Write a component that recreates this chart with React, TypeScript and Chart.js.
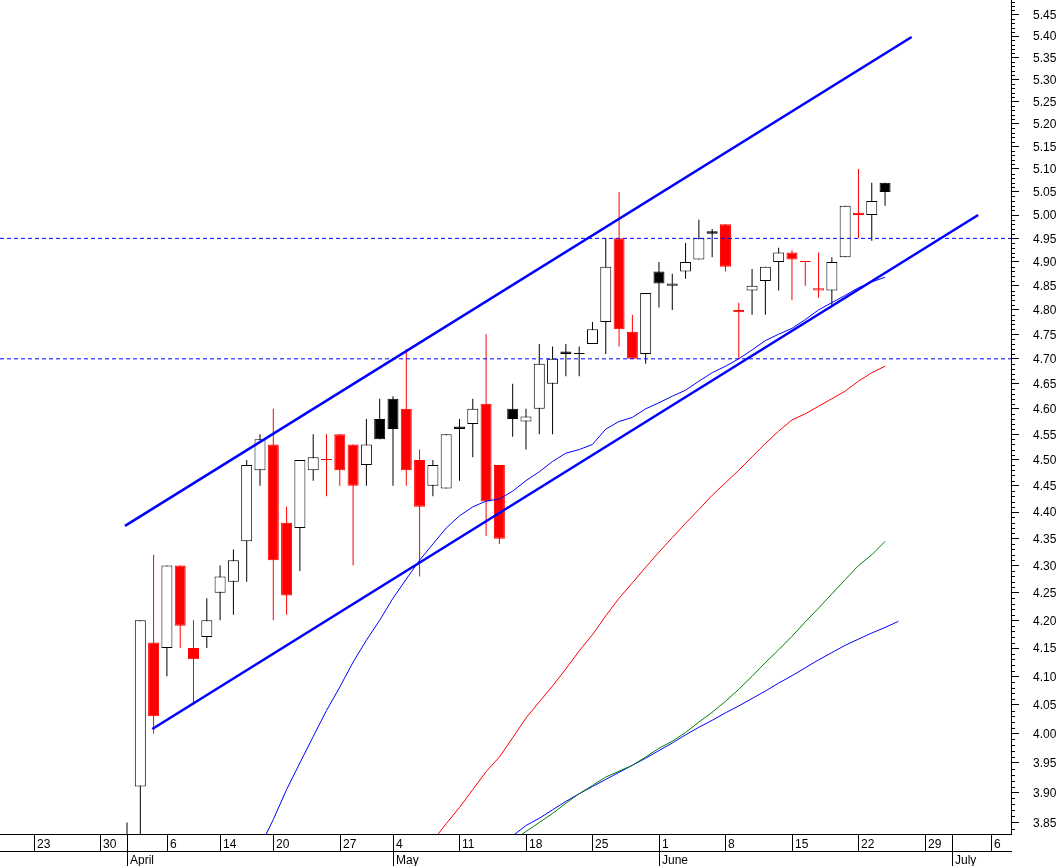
import React, { useEffect, useRef } from 'react';
import { Chart, registerables } from 'chart.js';

Chart.register(...registerables);

// ---- Candles (trading-day index 0..57) ----
const OPEN = [3.72, 3.91, 4.16, 4.15, 4.30, 4.15, 4.17, 4.25, 4.27, 4.345,
  4.48, 4.53, 4.38, 4.37, 4.48, 4.50, 4.55, 4.53, 4.49, 4.58,
  4.62, 4.60, 4.50, 4.45, 4.445, 4.565, 4.57, 4.61, 4.49, 4.60,
  4.575, 4.60, 4.65, 4.715, 4.71, 4.73, 4.775, 4.95, 4.755, 4.71,
  4.88, 4.85, 4.88, 4.905, 4.965, 4.98, 4.80, 4.84, 4.86, 4.90,
  4.92, 4.90, 4.84, 4.84, 4.91, 5.005, 5.00, 5.07];
const HIGH = [3.85, 4.20, 4.32, 4.30, 4.30, 4.20, 4.24, 4.30, 4.33, 4.50,
  4.55, 4.60, 4.41, 4.50, 4.55, 4.55, 4.55, 4.53, 4.58, 4.62,
  4.625, 4.72, 4.52, 4.50, 4.55, 4.58, 4.62, 4.75, 4.49, 4.65,
  4.60, 4.73, 4.725, 4.73, 4.725, 4.775, 4.95, 5.05, 4.79, 4.835,
  4.90, 4.875, 4.94, 4.99, 4.97, 4.98, 4.815, 4.885, 4.89, 4.93,
  4.925, 4.90, 4.92, 4.91, 5.02, 5.10, 5.07, 5.07];
const LOW = [3.70, 3.80, 4.00, 4.10, 4.15, 4.05, 4.15, 4.20, 4.21, 4.27,
  4.45, 4.20, 4.21, 4.29, 4.46, 4.43, 4.45, 4.30, 4.45, 4.54,
  4.45, 4.45, 4.28, 4.43, 4.445, 4.46, 4.505, 4.355, 4.34, 4.545,
  4.52, 4.55, 4.55, 4.665, 4.665, 4.73, 4.71, 4.725, 4.70, 4.69,
  4.805, 4.80, 4.865, 4.905, 4.91, 4.88, 4.70, 4.79, 4.79, 4.84,
  4.82, 4.85, 4.825, 4.81, 4.91, 4.95, 4.945, 5.02];
const CLOSE = [3.78, 4.20, 4.03, 4.30, 4.19, 4.13, 4.20, 4.28, 4.31, 4.49,
  4.54, 4.31, 4.245, 4.50, 4.505, 4.50, 4.48, 4.45, 4.53, 4.54,
  4.56, 4.48, 4.41, 4.49, 4.55, 4.56, 4.60, 4.42, 4.35, 4.58,
  4.585, 4.69, 4.70, 4.71, 4.71, 4.76, 4.89, 4.76, 4.70, 4.835,
  4.855, 4.855, 4.90, 4.95, 4.96, 4.89, 4.795, 4.85, 4.89, 4.92,
  4.905, 4.90, 4.845, 4.90, 5.02, 5.00, 5.03, 5.05];

// ---- Moving averages (values per trading-day index, starting at *_START) ----
const MA_SHORT_START = 10;
const MA_SHORT = [3.81, 3.855, 3.905, 3.95, 3.995, 4.04, 4.081, 4.125, 4.164, 4.20,
  4.24, 4.275, 4.31, 4.34, 4.37, 4.393, 4.41, 4.421, 4.425, 4.44,
  4.46, 4.477, 4.497, 4.513, 4.52, 4.53, 4.56, 4.575, 4.583, 4.60,
  4.612, 4.625, 4.637, 4.655, 4.672, 4.685, 4.70, 4.718, 4.737, 4.75,
  4.762, 4.78, 4.80, 4.815, 4.83, 4.846, 4.858, 4.868];
const MA_RED_START = 23;
const MA_RED = [3.82, 3.848, 3.875, 3.905, 3.935, 3.96, 3.993, 4.027, 4.055, 4.083,
  4.113, 4.145, 4.174, 4.208, 4.24, 4.268, 4.297, 4.325, 4.352, 4.379,
  4.405, 4.432, 4.456, 4.48, 4.506, 4.532, 4.556, 4.578, 4.59, 4.605,
  4.62, 4.635, 4.655, 4.672, 4.685];
const MA_GREEN_START = 29;
const MA_GREEN = [3.82, 3.835, 3.85, 3.865, 3.882, 3.898, 3.912, 3.926, 3.936, 3.946,
  3.96, 3.975, 3.987, 4.002, 4.02, 4.037, 4.056, 4.077, 4.10, 4.124,
  4.147, 4.171, 4.197, 4.222, 4.248, 4.274, 4.30, 4.32, 4.345];
const MA_LONG_START = 29;
const MA_LONG = [3.828, 3.845, 3.857, 3.871, 3.885, 3.898, 3.910, 3.922, 3.934, 3.946,
  3.958, 3.971, 3.984, 3.998, 4.011, 4.023, 4.036, 4.048, 4.061, 4.074,
  4.088, 4.101, 4.115, 4.129, 4.142, 4.155, 4.166, 4.177, 4.187, 4.198];

// ---- Trend channel (index, price) and horizontal levels ----
const UPPER_CHANNEL = [{ x: -0.15, y: 4.374 }, { x: 59, y: 5.398 }];
const LOWER_CHANNEL = [{ x: 1.9, y: 4.008 }, { x: 64, y: 5.0 }];
const LEVELS = [4.95, 4.70];

// ---- Axes ----
const X_MIN = -9.55;
const X_MAX = 66.47;
const Y_MIN = 3.831;
const Y_MAX = 5.4846;
const Y_TICKS = [3.85, 3.9, 3.95, 4.0, 4.05, 4.1, 4.15, 4.2, 4.25, 4.3, 4.35, 4.4, 4.45,
  4.5, 4.55, 4.6, 4.65, 4.7, 4.75, 4.8, 4.85, 4.9, 4.95, 5.0, 5.05, 5.1, 5.15, 5.2,
  5.25, 5.3, 5.35, 5.4, 5.45];
const DAY_TICK_POS = [-7, -2, 3, 7, 11, 16, 20, 25, 30, 35, 40, 45, 50, 55, 60, 65];
const DAY_TICK_LABELS = ['23', '30', '6', '14', '20', '27', '4', '11', '18', '25', '1', '8', '15', '22', '29', '6'];
const MONTH_POS = [0, 20, 40, 62];
const MONTH_LABELS = ['April', 'May', 'June', 'July'];

const FONT = '"Liberation Sans", Arial, sans-serif';
const RED = '#ff0000';
const BLUE = '#0000ff';
const GREEN = '#008000';
const BLACK = '#000000';

const axisPlugin = {
  id: 'tradeAxis',
  afterDraw(chart: any) {
    const { ctx, chartArea, scales } = chart;
    const xs = scales.x;
    const ys = scales.y;
    const bottom = Math.round(chartArea.bottom);
    const right = Math.round(chartArea.right);
    ctx.save();
    ctx.strokeStyle = BLACK;
    ctx.lineWidth = 1;
    ctx.beginPath();
    ctx.moveTo(0, bottom + 0.5);
    ctx.lineTo(right + 1, bottom + 0.5);
    ctx.moveTo(0, bottom + 17.5);
    ctx.lineTo(right + 1, bottom + 17.5);
    DAY_TICK_POS.forEach((p) => {
      const x = Math.round(xs.getPixelForValue(p)) + 0.5;
      ctx.moveTo(x, bottom);
      ctx.lineTo(x, bottom + 17);
    });
    MONTH_POS.forEach((p) => {
      const x = Math.round(xs.getPixelForValue(p)) + 0.5;
      ctx.moveTo(x, bottom);
      ctx.lineTo(x, chart.height);
    });
    // minor ticks on price axis every 0.01
    const ax = Math.round(ys.left) + 0.5;
    for (let c = 384; c <= 548; c++) {
      if (c % 5 === 0) continue;
      const y = Math.round(ys.getPixelForValue(c / 100)) + 0.5;
      if (y < chartArea.top || y > chartArea.bottom) continue;
      ctx.moveTo(ax, y);
      ctx.lineTo(ax + 3.5, y);
    }
    ctx.stroke();

    ctx.fillStyle = BLACK;
    ctx.font = '12px ' + FONT;
    ctx.textAlign = 'left';
    ctx.textBaseline = 'alphabetic';
    DAY_TICK_POS.forEach((p, i) => {
      const x = Math.round(xs.getPixelForValue(p));
      ctx.fillText(DAY_TICK_LABELS[i], x + 3, bottom + 14);
    });
    MONTH_POS.forEach((p, i) => {
      const x = Math.round(xs.getPixelForValue(p));
      ctx.fillText(MONTH_LABELS[i], x + 3, bottom + 30);
    });
    ctx.restore();
  },
};

export default function App() {
  const canvasRef = useRef<HTMLCanvasElement | null>(null);

  useEffect(() => {
    const canvas = canvasRef.current;
    if (!canvas) return;

    const isRed = CLOSE.map((c, i) => (i > 0 && c < CLOSE[i - 1]));
    const isHollow = CLOSE.map((c, i) => c >= OPEN[i]);
    const candleColor = isRed.map((r) => (r ? RED : BLACK));
    const bodyFill = candleColor.map((col, i) => (isHollow[i] ? '#ffffff' : col));

    const bodies = CLOSE.map((c, i) => ({ x: i, y: [OPEN[i], c] }));
    const wicks = HIGH.map((h, i) => ({ x: i, y: [LOW[i], h] }));
    const toPts = (arr: number[], start: number) => arr.map((v, i) => ({ x: start + i, y: v }));

    const lineBase = {
      type: 'line' as const,
      pointRadius: 0,
      pointHoverRadius: 0,
      fill: false,
      tension: 0,
      order: 0,
    };

    const chart = new Chart(canvas, {
      type: 'bar',
      data: {
        datasets: [
          {
            type: 'bar',
            data: wicks as any,
            backgroundColor: candleColor,
            borderWidth: 0,
            barThickness: 1,
            grouped: false,
            inflateAmount: 0,
            minBarLength: 1,
            order: 2,
          } as any,
          {
            type: 'bar',
            data: bodies as any,
            backgroundColor: bodyFill,
            borderColor: candleColor,
            borderWidth: 1,
            borderSkipped: false,
            barThickness: 11,
            grouped: false,
            inflateAmount: 0,
            minBarLength: 1,
            order: 1,
          } as any,
          { ...lineBase, data: toPts(MA_SHORT, MA_SHORT_START), borderColor: BLUE, borderWidth: 1 } as any,
          { ...lineBase, data: toPts(MA_RED, MA_RED_START), borderColor: RED, borderWidth: 1 } as any,
          { ...lineBase, data: toPts(MA_GREEN, MA_GREEN_START), borderColor: GREEN, borderWidth: 1 } as any,
          { ...lineBase, data: toPts(MA_LONG, MA_LONG_START), borderColor: BLUE, borderWidth: 1 } as any,
          { ...lineBase, data: UPPER_CHANNEL, borderColor: BLUE, borderWidth: 2.6 } as any,
          { ...lineBase, data: LOWER_CHANNEL, borderColor: BLUE, borderWidth: 2.6 } as any,
          ...LEVELS.map((lv) => ({
            ...lineBase,
            data: [{ x: X_MIN, y: lv }, { x: X_MAX, y: lv }],
            borderColor: BLUE,
            borderWidth: 1,
            borderDash: [4, 3],
          } as any)),
        ],
      },
      options: {
        responsive: false,
        devicePixelRatio: 1,
        animation: false,
        events: [],
        layout: { padding: { left: 0, right: 0, top: 0, bottom: 32 } },
        plugins: { legend: { display: false }, tooltip: { enabled: false } },
        scales: {
          x: {
            type: 'linear',
            min: X_MIN,
            max: X_MAX,
            display: false,
            offset: false,
            grid: { offset: false },
          },
          y: {
            type: 'logarithmic',
            position: 'right',
            min: Y_MIN,
            max: Y_MAX,
            bounds: 'data',
            beginAtZero: false,
            afterBuildTicks: (s: any) => {
              s.ticks = Y_TICKS.map((v) => ({ value: v }));
            },
            afterFit: (s: any) => {
              s.width = 51;
              s.paddingTop = 0;
              s.paddingBottom = 0;
            },
            grid: {
              display: true,
              drawOnChartArea: false,
              drawTicks: true,
              tickLength: 8,
              tickColor: BLACK,
              tickWidth: 1,
            },
            border: { display: true, color: BLACK, width: 1 },
            ticks: {
              autoSkip: false,
              padding: 14,
              labelOffset: 1,
              color: BLACK,
              font: { size: 12, family: FONT },
              callback: (v: any) => Number(v).toFixed(2),
            },
          } as any,
        },
      } as any,
      plugins: [axisPlugin],
    });

    return () => chart.destroy();
  }, []);

  return (
    <div style={{ position: 'fixed', left: 0, top: 0, width: 1062, height: 866, background: '#ffffff' }}>
      <canvas ref={canvasRef} width={1062} height={866} style={{ display: 'block' }} />
    </div>
  );
}
